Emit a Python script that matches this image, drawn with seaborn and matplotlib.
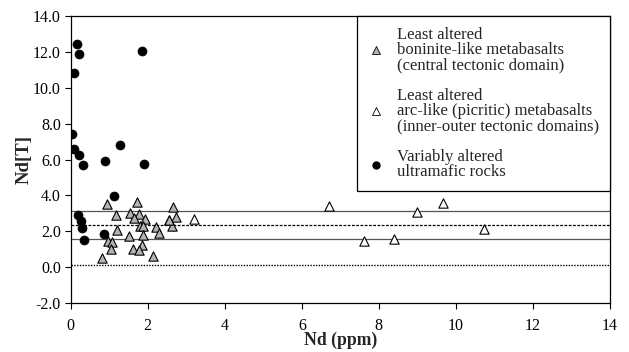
import matplotlib
matplotlib.use("Agg")
import matplotlib.pyplot as plt
import seaborn as sns
import pandas as pd
from matplotlib.lines import Line2D

# ---- data ----
boninite_nd = [0.94, 1.72, 1.18, 1.53, 1.77, 1.64, 1.93, 2.66, 2.73, 2.55, 2.63, 2.21,
               2.29, 1.80, 1.88, 1.19, 1.87, 1.51, 0.98, 1.06, 1.04, 1.61, 1.85, 1.77,
               0.80, 2.13, 2.56]
boninite_ndt = [3.50, 3.65, 2.91, 3.00, 2.96, 2.72, 2.68, 3.33, 2.80, 2.61, 2.28, 2.24,
                1.91, 2.31, 2.29, 2.07, 1.79, 1.74, 1.44, 1.42, 1.01, 1.01, 1.22, 0.94,
                0.51, 0.64, 2.63]
arc_nd = [3.19, 6.71, 8.99, 9.66, 7.62, 8.40, 10.74]
arc_ndt = [2.67, 3.43, 3.09, 3.59, 1.46, 1.55, 2.11]
ultra_nd = [0.17, 0.22, 0.09, 1.85, 0.04, 1.28, 0.09, 0.22, 0.31, 0.89, 1.90,
            1.12, 0.20, 0.26, 0.29, 0.86, 0.35]
ultra_ndt = [12.42, 11.87, 10.81, 12.07, 7.40, 6.79, 6.57, 6.27, 5.68, 5.93, 5.75,
             3.97, 2.91, 2.59, 2.17, 1.83, 1.50]
solid_levels = [3.15, 1.55]
dashed_level = 2.35
dotted_level = 0.10
labels = ["Least altered\nboninite-like metabasalts\n(central tectonic domain)",
          "Least altered\narc-like (picritic) metabasalts\n(inner-outer tectonic domains)",
          "Variably altered\nultramafic rocks"]
xticks = [0, 2, 4, 6, 8, 10, 12, 14]
yticks = [-2, 0, 2, 4, 6, 8, 10, 12, 14]

sns.set_theme(style="white")
plt.rcParams['font.family'] = ['Liberation Serif', 'DejaVu Serif']

fig = plt.figure(figsize=(6.29, 3.52), dpi=100)
ax = fig.add_axes([70.7/629, 1-303/352, (610-70.7)/629, (303-16)/352])

for lv in solid_levels:
    ax.axhline(lv, color='#555555', lw=0.9, ls='-', zorder=1)
ax.axhline(dashed_level, color='black', lw=0.9, ls=(0, (2.2, 1.2)), zorder=1)
ax.axhline(dotted_level, color='black', lw=1.0, ls=(0, (1, 1)), zorder=1)

df_b = pd.DataFrame({"x": boninite_nd, "y": boninite_ndt})
df_a = pd.DataFrame({"x": arc_nd, "y": arc_ndt})
df_u = pd.DataFrame({"x": ultra_nd, "y": ultra_ndt})
sns.scatterplot(data=df_b, x="x", y="y", ax=ax, marker='^', s=45, color='#b4b4b4',
                edgecolor='black', linewidth=0.8, zorder=3, legend=False)
sns.scatterplot(data=df_a, x="x", y="y", ax=ax, marker='^', s=45, color='white',
                edgecolor='black', linewidth=0.8, zorder=3, legend=False)
sns.scatterplot(data=df_u, x="x", y="y", ax=ax, marker='o', s=42, color='black',
                edgecolor='black', linewidth=0.5, zorder=4, legend=False)

ax.set_xlim(0, 14)
ax.set_ylim(-2, 14)
ax.set_xticks(xticks)
ax.set_xticklabels([str(t) for t in xticks])
ax.set_yticks(yticks)
ax.set_yticklabels([f"{t:.1f}" for t in yticks])
ax.tick_params(axis='both', direction='out', length=4, width=0.8, labelsize=11.5,
               colors='black', bottom=True, left=True, pad=3)
ax.tick_params(axis='x', pad=7)
for sp in ax.spines.values():
    sp.set_visible(True)
    sp.set_color('black')
    sp.set_linewidth(0.9)
ax.set_xlabel("Nd (ppm)", fontsize=12.7, fontweight='bold', labelpad=-2)
ax.set_ylabel("Nd[T]", fontsize=13.5, fontweight='bold', labelpad=0)

handles = [Line2D([], [], marker='^', ls='', color='#b4b4b4', markeredgecolor='black',
                  markeredgewidth=0.6, markersize=5.5),
           Line2D([], [], marker='^', ls='', color='white', markeredgecolor='black',
                  markeredgewidth=0.6, markersize=5.5),
           Line2D([], [], marker='o', ls='', color='black', markersize=5)]
leg = ax.legend(handles, labels, loc='upper right', bbox_to_anchor=(1.0, 1.0),
                frameon=True, fancybox=False, edgecolor='black', framealpha=1,
                fontsize=12, handlelength=1.0, handletextpad=0.75, labelspacing=0.85,
                borderpad=0.65, borderaxespad=0)
leg.get_frame().set_linewidth(0.9)
for t in leg.get_texts():
    t.set_linespacing(0.95)

fig.savefig("out.png", dpi=100)
